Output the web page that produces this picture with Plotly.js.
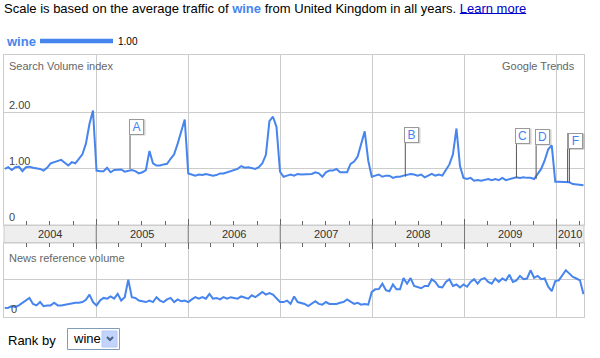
<!DOCTYPE html>
<html><head><meta charset="utf-8">
<script src="https://cdn.plot.ly/plotly-3.0.1.min.js"></script>
<style>html,body{margin:0;padding:0;background:#fff;}#chart{width:600px;height:358px;}</style>
</head><body><div id="chart"></div>
<script>
// ---- data ----
const term = 'wine';
const region = 'United Kingdom';
const legendValue = '1.00';
const seriesStart = '2004-01-04';
const stepDays = 14;
const axisStart = '2004-01-01';
const axisEnd = '2010-04-20';

const searchVolume = [
  1.00,1.03,0.98,1.03,1.04,0.96,1.03,1.04,1.02,1.01,1.00,0.97,1.02,1.10,1.12,1.14,1.16,1.11,1.06,1.12,1.10,1.18,1.26,1.45,1.80,2.04,
  0.97,0.96,0.96,1.02,0.94,0.98,0.99,0.99,0.95,0.97,0.98,0.96,0.92,0.94,0.98,1.32,1.10,1.06,1.06,1.08,1.09,1.18,1.26,1.45,1.68,1.88,
  0.92,0.90,0.88,0.90,0.89,0.91,0.90,0.88,0.89,0.92,0.92,0.94,0.96,0.97,1.00,1.05,1.02,1.03,1.01,1.00,1.03,1.10,1.25,1.85,1.93,1.75,0.95,0.86,
  0.88,0.90,0.88,0.91,0.90,0.90,0.90,0.91,0.94,0.92,0.86,0.94,0.97,0.97,1.00,0.94,0.94,0.94,1.09,1.13,1.22,1.47,1.67,1.15,0.86,
  0.88,0.90,0.86,0.88,0.88,0.84,0.86,0.86,0.88,0.90,0.91,0.90,0.88,0.90,0.85,0.88,0.91,0.88,0.90,0.88,0.97,1.08,1.26,1.72,1.05,0.84,
  0.82,0.84,0.79,0.80,0.79,0.80,0.82,0.80,0.82,0.80,0.84,0.80,0.82,0.84,0.85,0.84,0.85,0.84,0.84,0.82,0.91,1.00,1.15,1.35,1.42,0.77,
  0.77,0.77,0.76,0.76,0.73,0.72,0.71,0.71
];
const newsVolume = [
  0.24,0.25,0.29,0.27,0.31,0.38,0.46,0.51,0.35,0.31,0.40,0.29,0.31,0.31,0.38,0.31,0.31,0.33,0.33,0.35,0.38,0.38,0.40,0.46,0.60,0.40,
  0.31,0.44,0.51,0.49,0.55,0.49,0.62,0.44,0.53,1.00,0.53,0.51,0.44,0.42,0.40,0.44,0.40,0.53,0.44,0.40,0.47,0.51,0.40,0.47,0.42,0.44,
  0.40,0.47,0.53,0.49,0.53,0.49,0.62,0.49,0.51,0.47,0.53,0.49,0.53,0.51,0.49,0.55,0.51,0.49,0.58,0.53,0.60,0.67,0.60,0.64,0.60,0.49,0.40,0.40,
  0.44,0.35,0.55,0.40,0.38,0.35,0.29,0.35,0.42,0.35,0.33,0.40,0.35,0.35,0.35,0.38,0.40,0.47,0.40,0.35,0.38,0.33,0.35,0.33,0.67,
  0.74,0.75,0.89,0.72,0.69,0.87,0.74,0.74,1.04,0.89,1.04,0.83,0.79,0.77,0.83,0.83,1.01,0.94,0.81,0.79,0.94,1.01,0.83,0.87,0.79,0.87,
  0.81,0.94,1.01,0.89,1.01,1.04,0.94,0.89,1.03,0.94,1.03,0.98,1.13,0.94,0.98,1.10,1.01,1.03,1.25,1.05,1.10,1.01,1.03,0.81,0.69,0.96,
  0.98,1.10,1.25,1.16,1.07,1.03,0.98,0.61
];
const yearLabels = ['2004','2005','2006','2007','2008','2009','2010'];
const searchTickVals = [0, 1, 2];
const searchTickText = ['0', '1.00', '2.00'];
const newsTickVals = [0];
const newsTickText = ['0'];
const flagLetters = ['A','B','C','D','E','F'];
const flagDates = ['2005-05-15','2008-05-11','2009-07-26','2009-10-12','2010-02-14','2010-02-21'];
const flagValues = [1.00, 0.86, 0.84, 0.82, 0.76, 0.76];

// ---- build ----
const BLUE = '#4684ee';
const FONT = 'Liberation Sans, Arial, sans-serif';
const L = 4, R = 584, T = 55, B = 317;
const px = x => (x - L) / (R - L);
const py = y => (B - y) / (B - T);

const t0 = Date.parse(seriesStart + 'T00:00:00Z');
const dates = searchVolume.map((_, i) => new Date(t0 + i * stepDays * 86400000).toISOString().slice(0, 10));

const traces = [
  {x: dates, y: searchVolume, xaxis: 'x', yaxis: 'y', type: 'scatter', mode: 'lines',
   line: {color: BLUE, width: 2}, hoverinfo: 'skip'},
  {x: dates, y: newsVolume, xaxis: 'x2', yaxis: 'y2', type: 'scatter', mode: 'lines',
   line: {color: BLUE, width: 2}, hoverinfo: 'skip'}
];

const xCommon = {
  type: 'date', range: [axisStart, axisEnd], tickmode: 'linear', tick0: '2004-01-01', dtick: 'M12',
  ticks: 'inside', ticklen: 6, tickcolor: '#666', tickwidth: 1, showticklabels: false,
  showgrid: true, gridcolor: '#cccccc', gridwidth: 1, zeroline: false,
  showline: true, linecolor: '#cccccc', linewidth: 1, mirror: true,
  minor: {ticks: 'inside', tick0: '2004-01-01', dtick: 'M3', ticklen: 4, tickcolor: '#666', tickwidth: 1, showgrid: false}
};
const mainBottom = py(225), newsTop = py(243);

const layout = {
  width: 600, height: 358, showlegend: false,
  paper_bgcolor: '#fff', plot_bgcolor: '#fff',
  margin: {l: L, r: 600 - R, t: T, b: 358 - B, pad: 0},
  font: {family: FONT},
  xaxis: Object.assign({}, xCommon, {anchor: 'y', domain: [0, 1]}),
  yaxis: {domain: [mainBottom, 1], range: [0, 3.03], tickmode: 'array', tickvals: [1, 2],
          showticklabels: false, showgrid: true, gridcolor: '#cccccc', zeroline: false,
          showline: true, linecolor: '#cccccc', mirror: true, ticks: ''},
  xaxis2: Object.assign({}, xCommon, {anchor: 'y2', domain: [0, 1], side: 'top', matches: 'x'}),
  yaxis2: {domain: [0, newsTop], range: [0, 1.98], tickmode: 'array', tickvals: [1],
           showticklabels: false, showgrid: true, gridcolor: '#cccccc', zeroline: false,
           showline: true, linecolor: '#cccccc', mirror: true, ticks: ''},
  shapes: [], annotations: []
};

// year strip
layout.shapes.push({type: 'rect', xref: 'paper', yref: 'paper', x0: 0, x1: 1, y0: newsTop, y1: mainBottom,
  fillcolor: '#eeeeee', line: {color: '#cccccc', width: 1}, layer: 'below'});
const endMs = Date.parse(axisEnd + 'T00:00:00Z');
yearLabels.forEach((yr, i) => {
  const s = Date.parse(yr + '-01-01T00:00:00Z');
  const e = Math.min(Date.parse((+yr + 1) + '-01-01T00:00:00Z'), endMs);
  if (i > 0) layout.shapes.push({type: 'line', xref: 'x', yref: 'paper', x0: yr + '-01-01', x1: yr + '-01-01',
    y0: newsTop, y1: mainBottom, line: {color: '#777', width: 1}});
  const mid = new Date((s + e) / 2).toISOString().slice(0, 10);
  layout.annotations.push({xref: 'x', yref: 'paper', x: mid, y: (newsTop + mainBottom) / 2, text: yr,
    showarrow: false, xanchor: 'center', yanchor: 'middle', font: {size: 11, color: '#333'}});
});

// axis value labels (inside plot, above gridline)
searchTickVals.forEach((v, i) => layout.annotations.push({xref: 'paper', yref: 'y', x: px(7), y: v, yanchor: 'bottom',
  xanchor: 'left', text: searchTickText[i], showarrow: false, font: {size: 11, color: '#444'}}));
newsTickVals.forEach((v, i) => layout.annotations.push({xref: 'paper', yref: 'y2', x: px(9), y: v, yanchor: 'bottom',
  xanchor: 'left', text: newsTickText[i], showarrow: false, font: {size: 11, color: '#444'}}));

// panel titles
layout.annotations.push({xref: 'paper', yref: 'paper', x: px(7), y: py(66), xanchor: 'left', yanchor: 'middle',
  text: 'Search Volume index', showarrow: false, font: {size: 11, color: '#666'}});
layout.annotations.push({xref: 'paper', yref: 'paper', x: px(577), y: py(66), xanchor: 'right', yanchor: 'middle',
  text: 'Google Trends', showarrow: false, font: {size: 11, color: '#666'}});
layout.annotations.push({xref: 'paper', yref: 'paper', x: px(7), y: py(258), xanchor: 'left', yanchor: 'middle',
  text: 'News reference volume', showarrow: false, font: {size: 11, color: '#666'}});

// flags
const FLAG_H = 0.6;
flagLetters.forEach((f, i) => {
  const top = flagValues[i] + FLAG_H;
  layout.shapes.push({type: 'line', xref: 'x', yref: 'y', x0: flagDates[i], x1: flagDates[i],
    y0: flagValues[i], y1: top, line: {color: '#555', width: 1}});
  layout.annotations.push({xref: 'x', yref: 'y', x: flagDates[i], y: top, xanchor: 'left', yanchor: 'bottom',
    xshift: 0, yshift: -1, text: ' ', showarrow: false, width: 12, height: 13, borderpad: 1, borderwidth: 1,
    bgcolor: 'rgba(0,0,0,0.18)', bordercolor: 'rgba(0,0,0,0)'});
  layout.annotations.push({xref: 'x', yref: 'y', x: flagDates[i], y: top, xanchor: 'left', yanchor: 'bottom',
    xshift: -1, text: f, showarrow: false, width: 11, height: 12, borderpad: 1, borderwidth: 1,
    bgcolor: '#fff', bordercolor: '#999', font: {size: 12, color: BLUE}});
});

// header
layout.annotations.push({xref: 'paper', yref: 'paper', x: px(2), y: py(8), xanchor: 'left', yanchor: 'middle',
  text: 'Scale is based on the average traffic of <b><span style="color:' + BLUE + '">' + term + '</span></b> from ' + region +
        ' in all years. <span style="color:#0000cc">Learn more</span>',
  showarrow: false, font: {size: 13, color: '#000'}});

// legend
layout.annotations.push({xref: 'paper', yref: 'paper', x: px(4), y: py(41), xanchor: 'left', yanchor: 'middle',
  text: '<b>' + term + '</b>', showarrow: false, font: {size: 13, color: BLUE}});
layout.shapes.push({type: 'line', xref: 'paper', yref: 'paper', x0: px(40), x1: px(113), y0: py(41), y1: py(41),
  line: {color: BLUE, width: 4.5}});
layout.annotations.push({xref: 'paper', yref: 'paper', x: px(116), y: py(41), xanchor: 'left', yanchor: 'middle',
  text: legendValue, showarrow: false, font: {size: 10, color: '#000'}});

// rank by
layout.annotations.push({xref: 'paper', yref: 'paper', x: px(6), y: py(340), xanchor: 'left', yanchor: 'middle',
  text: 'Rank by', showarrow: false, font: {size: 13, color: '#000'}});
layout.shapes.push({type: 'rect', xref: 'paper', yref: 'paper', x0: px(67.5), x1: px(119.5), y0: py(349.5), y1: py(328.5),
  fillcolor: '#fff', line: {color: '#7f9db9', width: 1}});
layout.shapes.push({type: 'rect', xref: 'paper', yref: 'paper', x0: px(102), x1: px(117), y0: py(347), y1: py(331),
  fillcolor: '#c3d4fc', line: {color: '#b4c8f4', width: 1}});
layout.shapes.push({type: 'path', xref: 'paper', yref: 'paper',
  path: 'M' + px(107) + ',' + py(337) + ' L' + px(110) + ',' + py(340) + ' L' + px(113) + ',' + py(337),
  line: {color: '#4d6185', width: 2}});
layout.annotations.push({xref: 'paper', yref: 'paper', x: px(71), y: py(338.5), xanchor: 'left', yanchor: 'middle',
  text: term, showarrow: false, font: {size: 13, color: '#000'}});

const gd = document.getElementById('chart');
Plotly.newPlot(gd, traces, layout, {staticPlot: true, displayModeBar: false}).then(() => {
  // underline the "Learn more" link under its rendered text
  const spans = Array.from(gd.querySelectorAll('.annotation-text tspan'));
  const link = spans.find(s => s.textContent === 'Learn more');
  if (link) {
    const r = link.getBoundingClientRect();
    const g = gd.getBoundingClientRect();
    const x0 = r.left - g.left, x1 = r.right - g.left, yy = r.bottom - g.top - 2.5;
    const shapes = gd.layout.shapes.slice();
    shapes.push({type: 'line', xref: 'paper', yref: 'paper', x0: px(x0), x1: px(x1), y0: py(yy), y1: py(yy),
      line: {color: '#0000cc', width: 1}});
    Plotly.relayout(gd, {shapes: shapes});
  }
});
</script></body></html>
